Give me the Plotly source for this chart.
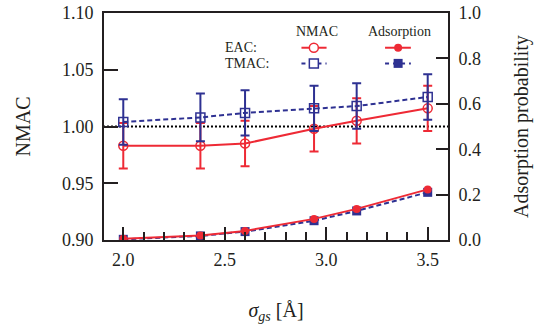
import plotly.graph_objects as go

sigma = [2.0, 2.38, 2.6, 2.94, 3.15, 3.5]
eac_nmac = [0.983, 0.983, 0.985, 0.998, 1.005, 1.016]
eac_err = [0.020, 0.020, 0.020, 0.020, 0.020, 0.020]
tmac_nmac = [1.004, 1.008, 1.012, 1.016, 1.018, 1.026]
tmac_err = [0.020, 0.021, 0.020, 0.020, 0.020, 0.020]
eac_ads = [0.005, 0.020, 0.040, 0.093, 0.137, 0.223]
tmac_ads = [0.003, 0.018, 0.037, 0.085, 0.128, 0.210]

RED = "#ee2a35"
BLUE = "#2e3192"
AX = "#231f20"
FONT = "Liberation Serif"

fig = go.Figure()

# reference line at NMAC = 1
fig.add_trace(go.Scatter(x=[1.9, 3.6], y=[1.0, 1.0], mode="lines",
                         line=dict(color="black", width=2, dash="2px,2px"),
                         hoverinfo="skip", showlegend=False))

# Adsorption (right axis)
fig.add_trace(go.Scatter(x=sigma, y=tmac_ads, yaxis="y2", mode="lines+markers",
                         line=dict(color=BLUE, width=2, dash="5px,3px"),
                         marker=dict(symbol="square", size=9, color=BLUE),
                         showlegend=False))
fig.add_trace(go.Scatter(x=sigma, y=eac_ads, yaxis="y2", mode="lines+markers",
                         line=dict(color=RED, width=2),
                         marker=dict(symbol="circle", size=8, color=RED),
                         showlegend=False))

# NMAC (left axis)
fig.add_trace(go.Scatter(x=sigma, y=eac_nmac, mode="lines+markers",
                         line=dict(color=RED, width=2),
                         marker=dict(symbol="circle-open", size=9, color=RED, line=dict(width=1.5)),
                         error_y=dict(type="data", array=eac_err, color=RED, thickness=2, width=4.5),
                         showlegend=False))
fig.add_trace(go.Scatter(x=sigma, y=tmac_nmac, mode="lines+markers",
                         line=dict(color=BLUE, width=2, dash="5px,3px"),
                         marker=dict(symbol="square-open", size=9, color=BLUE, line=dict(width=1.5)),
                         error_y=dict(type="data", array=tmac_err, color=BLUE, thickness=2, width=4.5),
                         showlegend=False))

# custom legend samples
leg_x_nmac = [0.574, 0.610, 0.647]
leg_x_ads = [0.817, 0.855, 0.892]
leg_y_eac = 0.847
leg_y_tmac = 0.778
fig.add_trace(go.Scatter(x=leg_x_nmac, y=[leg_y_eac] * 3, xaxis="x3", yaxis="y3",
                         mode="lines", line=dict(color=RED, width=2), showlegend=False, hoverinfo="skip"))
fig.add_trace(go.Scatter(x=[leg_x_nmac[1]], y=[leg_y_eac], xaxis="x3", yaxis="y3", mode="markers",
                         marker=dict(symbol="circle", size=9, color="white", line=dict(color=RED, width=1.5)),
                         showlegend=False, hoverinfo="skip"))
fig.add_trace(go.Scatter(x=leg_x_ads, y=[leg_y_eac] * 3, xaxis="x3", yaxis="y3",
                         mode="lines", line=dict(color=RED, width=2), showlegend=False, hoverinfo="skip"))
fig.add_trace(go.Scatter(x=[leg_x_ads[1]], y=[leg_y_eac], xaxis="x3", yaxis="y3", mode="markers",
                         marker=dict(symbol="circle", size=8, color=RED),
                         showlegend=False, hoverinfo="skip"))
fig.add_trace(go.Scatter(x=leg_x_nmac, y=[leg_y_tmac] * 3, xaxis="x3", yaxis="y3",
                         mode="lines", line=dict(color=BLUE, width=2, dash="4px,4px"), showlegend=False, hoverinfo="skip"))
fig.add_trace(go.Scatter(x=[leg_x_nmac[1]], y=[leg_y_tmac], xaxis="x3", yaxis="y3", mode="markers",
                         marker=dict(symbol="square", size=9, color="white", line=dict(color=BLUE, width=1.5)),
                         showlegend=False, hoverinfo="skip"))
fig.add_trace(go.Scatter(x=leg_x_ads, y=[leg_y_tmac] * 3, xaxis="x3", yaxis="y3",
                         mode="lines", line=dict(color=BLUE, width=2, dash="4px,4px"), showlegend=False, hoverinfo="skip"))
fig.add_trace(go.Scatter(x=[leg_x_ads[1]], y=[leg_y_tmac], xaxis="x3", yaxis="y3", mode="markers",
                         marker=dict(symbol="square", size=9, color=BLUE),
                         showlegend=False, hoverinfo="skip"))

tickfont = dict(family=FONT, size=18, color=AX)
titlefont = dict(family=FONT, size=20, color=AX)

fig.update_layout(
    width=538, height=327,
    margin=dict(l=104, r=90, t=13, b=87, autoexpand=False),
    paper_bgcolor="white", plot_bgcolor="white",
    font=dict(family=FONT, color=AX),
    xaxis=dict(range=[1.905, 3.6], tickvals=[2.0, 2.5, 3.0, 3.5], ticktext=["2.0", "2.5", "3.0", "3.5"],
               ticks="inside", ticklen=13, tickwidth=1.8, tickcolor=AX,
               minor=dict(dtick=0.1, tick0=2.0, ticks="inside", ticklen=8, tickwidth=1.5, tickcolor=AX),
               showline=True, linewidth=2, linecolor=AX, mirror=True, showgrid=False, zeroline=False,
               tickfont=tickfont, ticklabelstandoff=2, automargin=False,
               title=dict(text="<i>σ</i><sub><i>gs</i></sub> [Å]", font=titlefont, standoff=34)),
    yaxis=dict(range=[0.90, 1.10], tickvals=[0.90, 0.95, 1.00, 1.05, 1.10],
               ticktext=["0.90", "0.95", "1.00", "1.05", "1.10"],
               ticks="inside", ticklen=14, tickwidth=1.8, tickcolor=AX,
               showline=True, linewidth=2, linecolor=AX, showgrid=False, zeroline=False,
               tickfont=tickfont, ticklabelstandoff=5, automargin=False,
               title=dict(text="NMAC", font=titlefont, standoff=26)),
    yaxis2=dict(range=[0.0, 1.0], tickvals=[0.0, 0.2, 0.4, 0.6, 0.8, 1.0],
                ticktext=["0.0", "0.2", "0.4", "0.6", "0.8", "1.0"],
                overlaying="y", side="right",
                ticks="inside", ticklen=12, tickwidth=1.8, tickcolor=AX,
                showline=True, linewidth=2, linecolor=AX, showgrid=False, zeroline=False,
                tickfont=tickfont, ticklabelstandoff=5, automargin=False,
                title=dict(text="Adsorption probability", font=titlefont, standoff=34)),
    xaxis3=dict(domain=[0, 1], range=[0, 1], overlaying="x", visible=False),
    yaxis3=dict(domain=[0, 1], range=[0, 1], overlaying="y", visible=False, anchor="x3"),
    showlegend=False,
)

legfont = dict(family=FONT, size=14, color=AX)
for x, y, t, xa in [(0.618, 0.917, "NMAC", "center"), (0.860, 0.917, "Adsorption", "center"),
                    (0.346, leg_y_eac, "EAC:", "left"), (0.346, leg_y_tmac, "TMAC:", "left")]:
    fig.add_annotation(x=x, y=y, xref="paper", yref="paper", text=t, showarrow=False,
                       font=legfont, xanchor=xa, yanchor="middle")

fig.write_html("out.html")
